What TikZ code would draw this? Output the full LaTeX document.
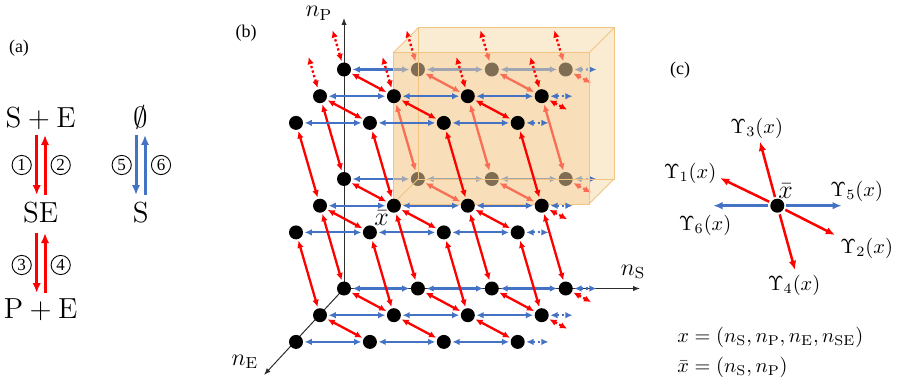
\RequirePackage{fix-cm}
\documentclass[tikz,border=0pt]{standalone}
\usepackage{fontspec}
\usepackage{amssymb}
\newfontfamily\tnr{Liberation Serif}
\usetikzlibrary{arrows.meta}
\definecolor{myred}{RGB}{255,0,0}
\definecolor{myblue}{RGB}{68,114,196}
\definecolor{boxfill}{RGB}{245,212,162}
\definecolor{boxedge}{RGB}{242,196,130}
\definecolor{axgray}{RGB}{45,45,45}
\pgfdeclarelayer{bg}
\pgfdeclarelayer{behind}
\pgfdeclarelayer{front}
\pgfsetlayers{bg,behind,front,main}
\tikzset{
  lat/.style={circle,fill=black,minimum size=7pt,inner sep=0pt},
  rarr/.style={draw=myred,line width=1.15pt,{Latex[length=3.6pt,width=3.3pt]}-{Latex[length=3.6pt,width=3.3pt]},shorten <=0.6pt,shorten >=0.6pt},
  barr/.style={draw=myblue,line width=1.05pt,{Latex[length=3.6pt,width=3.3pt]}-{Latex[length=3.6pt,width=3.3pt]},shorten <=0.6pt,shorten >=0.6pt},
  rdot/.style={rarr,dash pattern=on 1.15pt off 1.2pt},
  bdot/.style={barr,dash pattern=on 1.05pt off 1.4pt},
  ax/.style={draw=axgray,line width=0.5pt,-{Latex[length=3.4pt,width=2.6pt]}},
  ra/.style={draw=myred,line width=1.5pt,-{Latex[length=5pt,width=4.2pt]}},
  ba/.style={draw=myblue,line width=1.5pt,-{Latex[length=5pt,width=4.2pt]}},
  rc/.style={draw=myred,line width=1.25pt,-{Latex[length=4.6pt,width=3.8pt]},shorten <=0.8pt},
  bc/.style={draw=myblue,line width=1.25pt,-{Latex[length=4.6pt,width=3.8pt]},shorten <=0.8pt},
  lbl/.style={font=\tnr\fontsize{9}{11}\selectfont,inner sep=0pt},
  chem/.style={font=\fontsize{14.5}{17}\selectfont,inner sep=0pt},
  circnum/.style={circle,draw,line width=0.45pt,minimum size=9.6pt,inner sep=0pt,font=\tnr\fontsize{8.5}{10}\selectfont},
  axl/.style={font=\fontsize{12}{14}\selectfont,inner sep=0pt,anchor=base},
  ml/.style={font=\fontsize{10.2}{12}\selectfont,inner sep=0pt},
  xbl/.style={font=\fontsize{13}{15}\selectfont,inner sep=0pt}
}
\begin{document}
\begin{tikzpicture}[x=0.5pt,y=-0.5pt]
\useasboundingbox (0,0) rectangle (897,379);
% ---------------- panel (a)
\node[lbl] (la) at (19,48) {(a)};
\node[chem] (SpE) at (40.7,118) {$\mathrm{S}+\mathrm{E}$};
\node[chem] (SE) at (40.7,213) {$\mathrm{SE}$};
\node[chem] (PpE) at (40.7,310) {$\mathrm{P}+\mathrm{E}$};
\node[chem] (emp) at (140.7,117) {$\emptyset$};
\node[chem] (Sx) at (140.7,213) {$\mathrm{S}$};
\coordinate (a1s) at (36.7,135); \coordinate (a1e) at (36.7,195);
\coordinate (a2s) at (45,195);   \coordinate (a2e) at (45,135);
\coordinate (a3s) at (36.7,233); \coordinate (a3e) at (36.7,293);
\coordinate (a4s) at (45,293);   \coordinate (a4e) at (45,233);
\coordinate (a5s) at (136,135);  \coordinate (a5e) at (136,195);
\coordinate (a6s) at (145,195);  \coordinate (a6e) at (145,135);
\draw[ra] (a1s) -- (a1e);
\draw[ra] (a2s) -- (a2e);
\draw[ra] (a3s) -- (a3e);
\draw[ra] (a4s) -- (a4e);
\draw[ba] (a5s) -- (a5e);
\draw[ba] (a6s) -- (a6e);
\node[circnum] (c1) at (21.7,165) {1};
\node[circnum] (c2) at (60.7,165) {2};
\node[circnum] (c3) at (21.7,265) {3};
\node[circnum] (c4) at (60.7,265) {4};
\node[circnum] (c5) at (121.7,165) {5};
\node[circnum] (c6) at (161,165) {6};
% ---------------- panel (b)
\node[lbl] (lb) at (246,33) {(b)};
% nodes behind the front face
\begin{pgfonlayer}{behind}
\foreach \L in {1,2}{\foreach \c in {0,...,3}{
  \pgfmathsetmacro\px{344+73.9*\c}
  \pgfmathsetmacro\py{288.5-109.5*\L}
  \node[lat] (n-\L-0-\c) at (\px,\py) {};
}}
\end{pgfonlayer}
\foreach \c in {0,...,3}{
  \pgfmathsetmacro\px{344+73.9*\c}
  \node[lat] (n-0-0-\c) at (\px,288.5) {};
}
\foreach \L in {0,1,2}{\foreach \r in {1,2}{\foreach \c in {0,...,3}{
  \pgfmathsetmacro\px{344+73.9*\c-24*\r}
  \pgfmathsetmacro\py{288.5-109.5*\L+26.7*\r}
  \node[lat] (n-\L-\r-\c) at (\px,\py) {};
}}}
% free ends
\foreach \r in {0,1}{\foreach \c in {0,...,3}{
  \path (n-2-\r-\c) ++(-11.7,-40.3) coordinate (up-\r-\c);
}}
\foreach \L in {0,1,2}{
  \foreach \r in {0,1}{\path (n-\L-\r-3) ++(26.5,14.1) coordinate (dr-\L-\r);}
  \foreach \r in {0,1,2}{\path (n-\L-\r-3) ++(32,0) coordinate (db-\L-\r);}
}
\coordinate (pTip) at (344,18);
\coordinate (sTip) at (640,288.5);
\coordinate (eTip) at (264,375);
% background: box hull and axes
\begin{pgfonlayer}{bg}
\fill[boxfill,opacity=0.47] (393,53)--(418,28)--(614,28)--(614,179)--(589,204)--(393,204)--cycle;
\draw[ax] (n-0-0-0.center) -- (pTip);
\draw[ax] (n-0-0-0.center) -- (sTip);
\draw[ax] (n-0-0-0.center) -- (eTip);
\end{pgfonlayer}
% arrows behind the front face
\begin{pgfonlayer}{behind}
\foreach \L in {1,2}{
  \foreach \c [evaluate=\c as \d using int(\c+1)] in {0,1,2}{
    \draw[barr] (n-\L-0-\c) -- (n-\L-0-\d);
  }
  \foreach \c [evaluate=\c as \d using int(\c+1)] in {0,1,2}{
    \draw[rarr] (n-\L-0-\c) -- (n-\L-1-\d);
  }
  \draw[bdot] (n-\L-0-3) -- (db-\L-0);
  \draw[rdot] (n-\L-0-3) -- (dr-\L-0);
}
\foreach \c in {0,...,3}{
  \draw[rarr] (n-2-1-\c) -- (n-1-0-\c);
  \draw[rdot] (n-2-0-\c) -- (up-0-\c);
}
\end{pgfonlayer}
% front face of the box
\begin{pgfonlayer}{front}
\fill[boxfill,opacity=0.52] (393,53) rectangle (589,204);
\draw[boxedge,line width=0.5pt] (393,53) rectangle (589,204);
\draw[boxedge,line width=0.5pt] (418,28) rectangle (614,179);
\draw[boxedge,line width=0.5pt] (393,53) -- (418,28);
\draw[boxedge,line width=0.5pt] (589,53) -- (614,28);
\draw[boxedge,line width=0.5pt] (589,204) -- (614,179);
\draw[boxedge,line width=0.5pt] (393,204) -- (418,179);
\end{pgfonlayer}
% arrows in front
\foreach \c [evaluate=\c as \d using int(\c+1)] in {0,1,2}{
  \draw[barr] (n-0-0-\c) -- (n-0-0-\d);
}
\foreach \L in {0,1,2}{
  \foreach \c [evaluate=\c as \d using int(\c+1)] in {0,1,2}{
    \draw[barr] (n-\L-1-\c) -- (n-\L-1-\d);
    \draw[barr] (n-\L-2-\c) -- (n-\L-2-\d);
  }
}
\foreach \c [evaluate=\c as \d using int(\c+1)] in {0,1,2}{
  \draw[rarr] (n-0-0-\c) -- (n-0-1-\d);
  \foreach \L in {0,1,2}{
    \draw[rarr] (n-\L-1-\c) -- (n-\L-2-\d);
  }
}
\draw[bdot] (n-0-0-3) -- (db-0-0);
\draw[rdot] (n-0-0-3) -- (dr-0-0);
\foreach \L in {0,1,2}{
  \draw[bdot] (n-\L-1-3) -- (db-\L-1);
  \draw[bdot] (n-\L-2-3) -- (db-\L-2);
  \draw[rdot] (n-\L-1-3) -- (dr-\L-1);
}
\foreach \c in {0,...,3}{
  \draw[rarr] (n-2-2-\c) -- (n-1-1-\c);
  \draw[rarr] (n-1-1-\c) -- (n-0-0-\c);
  \draw[rarr] (n-1-2-\c) -- (n-0-1-\c);
  \draw[rdot] (n-2-1-\c) -- (up-1-\c);
}
\node[axl] (lnP) at (319,17) {$n_{\mathrm{P}}$};
\node[axl] (lnS) at (633,275) {$n_{\mathrm{S}}$};
\node[axl] (lnE) at (245,365) {$n_{\mathrm{E}}$};
\node[xbl] (lxb) at (381.5,218) {$\bar{x}$};
% ---------------- panel (c)
\node[lbl] (lc) at (680,70) {(c)};
\node[lat] (xb) at (777.3,205.7) {};
\coordinate (e3) at (760,141.7);
\coordinate (e1) at (720,178);
\coordinate (e5) at (841.7,205.7);
\coordinate (e6) at (713.3,205.7);
\coordinate (e2) at (835,235);
\coordinate (e4) at (795,270);
\draw[rc] (xb) -- (e3);
\draw[rc] (xb) -- (e1);
\draw[bc] (xb) -- (e5);
\draw[bc] (xb) -- (e6);
\draw[rc] (xb) -- (e2);
\draw[rc] (xb) -- (e4);
\node[ml] (u3) at (756.7,128) {$\Upsilon_3(x)$};
\node[ml] (u1) at (690,173) {$\Upsilon_1(x)$};
\node[ml] (u5) at (856.7,191.7) {$\Upsilon_5(x)$};
\node[ml] (u6) at (705,225) {$\Upsilon_6(x)$};
\node[ml] (u2) at (866.7,248) {$\Upsilon_2(x)$};
\node[ml] (u4) at (794,285) {$\Upsilon_4(x)$};
\node[xbl] (cxb) at (785.7,190.7) {$\bar{x}$};
\node[ml,anchor=base west] (f1) at (677,342) {$x=(n_{\mathrm{S}},n_{\mathrm{P}},n_{\mathrm{E}},n_{\mathrm{SE}})$};
\node[ml,anchor=base west] (f2) at (677,372) {$\bar{x}=(n_{\mathrm{S}},n_{\mathrm{P}})$};
\end{tikzpicture}
\end{document}
